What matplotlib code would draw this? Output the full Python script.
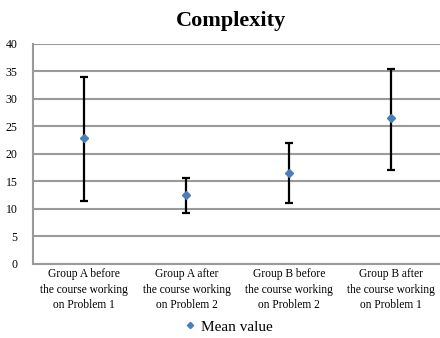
import matplotlib
matplotlib.use("Agg")
import matplotlib.pyplot as plt
import numpy as np

categories = [
    "Group A before\nthe course working\non Problem 1",
    "Group A after\nthe course working\non Problem 2",
    "Group B before\nthe course working\non Problem 2",
    "Group B after\nthe course working\non Problem 1",
]
mean_values = [22.9, 12.5, 16.5, 26.5]
upper_values = [34.0, 15.6, 22.0, 35.5]
lower_values = [11.4, 9.3, 11.1, 17.1]
y_ticks = [0, 5, 10, 15, 20, 25, 30, 35, 40]

plt.rcParams["font.family"] = ["Liberation Serif", "DejaVu Serif"]

fig = plt.figure(figsize=(4.4, 3.38), dpi=100)
ax = fig.add_axes([0.075, 0.219, 0.93, 0.651])

x = np.arange(len(categories))
means = np.array(mean_values)
yerr = np.vstack([means - np.array(lower_values), np.array(upper_values) - means])

ax.errorbar(x, means, yerr=yerr, fmt="none", ecolor="black", elinewidth=1.6,
            capsize=3, capthick=1.6, zorder=3)
ax.plot(x, means, linestyle="none", marker="D", markersize=4.5,
        color="#4a7ebb", label="Mean value", zorder=4)

ax.set_xlim(-0.5, len(categories) - 0.5)
ax.set_ylim(0, 40)
ax.set_yticks(y_ticks)
ax.set_yticklabels([str(t) for t in y_ticks], fontsize=8.5)
ax.set_xticks(x)
ax.set_xticklabels(categories, fontsize=8.3, linespacing=1.4)
ax.tick_params(axis="both", length=0)
ax.tick_params(axis="x", pad=3)
ax.tick_params(axis="y", pad=11)

ax.grid(axis="y", color="#9a9a9a", linewidth=1.5)
ax.set_axisbelow(True)
for side in ["top", "right"]:
    ax.spines[side].set_visible(False)
for side in ["left", "bottom"]:
    ax.spines[side].set_color("#9a9a9a")
    ax.spines[side].set_linewidth(1.5)

fig.suptitle("Complexity", fontsize=16, fontweight="bold", x=0.525, y=0.968)

fig.legend(loc="lower center", bbox_to_anchor=(0.52, -0.028), frameon=False,
           fontsize=11, handlelength=0.6, handletextpad=0.4, markerscale=0.7)

fig.savefig("out.png", dpi=100)
